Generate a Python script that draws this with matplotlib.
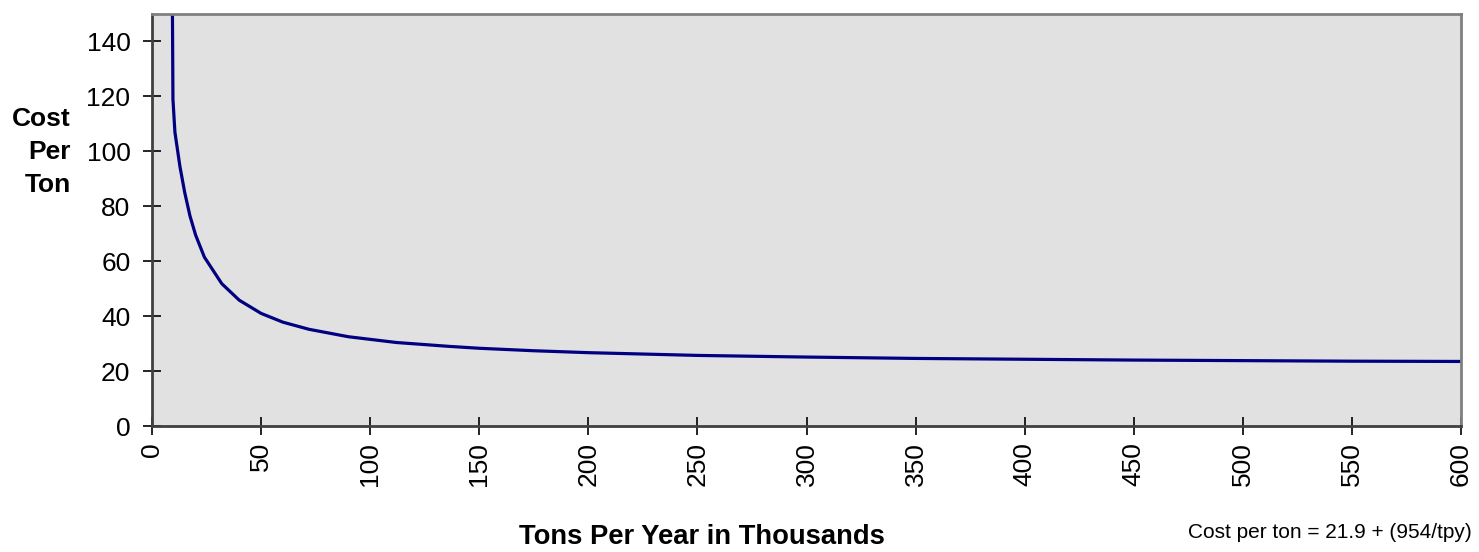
import matplotlib
matplotlib.use("Agg")
import matplotlib.pyplot as plt

# Data (tons per year in thousands vs cost per ton)
tpy = [9.3, 9.6, 10.5, 12.8, 15, 17.4, 20, 24, 32, 40, 50, 60, 72, 90, 112,
       136, 150, 175, 200, 250, 300, 350, 400, 450, 500, 550, 600]
cost = [160, 119, 107, 94.5, 85, 76.5, 69.5, 61.5, 51.8, 45.8, 41, 37.8, 35.2,
        32.5, 30.4, 29.0, 28.3, 27.4, 26.7, 25.7, 25.1, 24.6, 24.3, 24.0, 23.8,
        23.6, 23.5]
xticks = [0, 50, 100, 150, 200, 250, 300, 350, 400, 450, 500, 550, 600]
yticks = [0, 20, 40, 60, 80, 100, 120, 140]

plt.rcParams['font.family'] = ['Liberation Sans', 'DejaVu Sans']

fig = plt.figure(figsize=(14.79, 5.52), dpi=100)
ax = fig.add_axes([152/1479, 1 - 426/552, (1461-152)/1479, (426-14)/552])
ax.set_facecolor('#e1e1e1')

ax.plot(tpy, cost, color='#000080', lw=2.3, solid_joinstyle='round')

ax.set_xlim(0, 600)
ax.set_ylim(0, 150)
ax.set_xticks(xticks)
ax.set_yticks(yticks)
ax.set_xticklabels([str(v) for v in xticks], rotation=90, fontsize=19, va='top')
ax.set_yticklabels([str(v) for v in yticks], fontsize=19)
ax.tick_params(axis='both', direction='inout', length=13, width=1.2, color='black')
ax.tick_params(axis='x', pad=5)
ax.tick_params(axis='y', pad=9)

for s in ['top', 'right']:
    ax.spines[s].set_color('#808080')
    ax.spines[s].set_linewidth(2)
for s in ['left', 'bottom']:
    ax.spines[s].set_color('#404040')
    ax.spines[s].set_linewidth(2)

fig.text(71/1479, 1 - 152/552, "Cost\nPer\nTon", ha='right', va='center',
         fontsize=19, fontweight='bold', linespacing=1.5)
fig.text(702/1479, 1 - 537/552, "Tons Per Year in Thousands", ha='center',
         va='center', fontsize=19.7, fontweight='bold')
fig.text(1472/1479, 1 - 532/552, "Cost per ton = 21.9 + (954/tpy)", ha='right',
         va='center', fontsize=15)

fig.savefig('out.png', dpi=100)
